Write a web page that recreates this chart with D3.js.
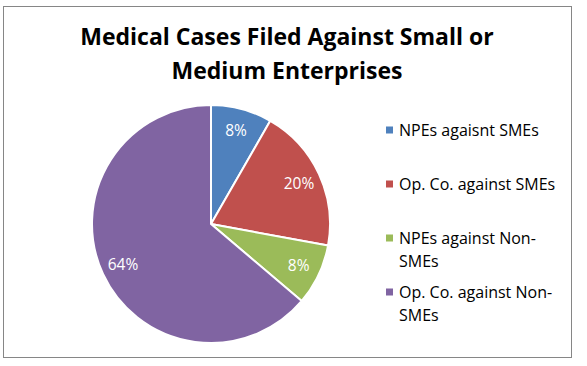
<!DOCTYPE html>
<html>
<head>
<meta charset="utf-8">
<script src="https://cdn.jsdelivr.net/npm/d3@7"></script>
<style>
  html, body { margin: 0; padding: 0; background: #fff; }
</style>
</head>
<body>
<div id="chart"></div>
<script>
// Medical cases filed against SMEs - pie chart
const titleLines = ["Medical Cases Filed Against Small or", "Medium Enterprises"];
const categories = ["NPEs agaisnt SMEs", "Op. Co. against SMEs", "NPEs against Non-SMEs", "Op. Co. against Non-SMEs"];
const shares = [8.3, 19.6, 8.3, 63.8];
const colors = ["#4f81bd", "#c0504d", "#9bbb59", "#8064a2"];

const width = 587, height = 366;
const cx = 211, cy = 224, radius = 119;

const svg = d3.select("#chart")
  .append("svg")
  .attr("width", width)
  .attr("height", height);

// Chart area border
svg.append("rect")
  .attr("x", 3.5).attr("y", 6.5)
  .attr("width", 568).attr("height", 351)
  .attr("fill", "#fff")
  .attr("stroke", "#868686")
  .attr("stroke-width", 1);

// Title
svg.append("g")
  .selectAll("text")
  .data(titleLines)
  .join("text")
  .attr("x", 287)
  .attr("y", (d, i) => 45 + i * 33.5)
  .attr("text-anchor", "middle")
  .style("font-family", "'Open Sans', sans-serif")
  .style("font-weight", "bold")
  .style("font-size", "23px")
  .style("fill", "#000")
  .text(d => d);

// Pie
const data = categories.map((c, i) => ({ name: c, value: shares[i], color: colors[i] }));
const pie = d3.pie().sort(null).value(d => d.value);
const arcs = pie(data);
const arc = d3.arc().innerRadius(0).outerRadius(radius);
const labelArc = d3.arc().innerRadius(97).outerRadius(97);

const pieG = svg.append("g").attr("transform", `translate(${cx},${cy})`);

pieG.selectAll("path")
  .data(arcs)
  .join("path")
  .attr("d", arc)
  .attr("fill", d => d.data.color)
  .attr("stroke", "#fff")
  .attr("stroke-width", 2)
  .attr("stroke-linejoin", "round");

pieG.selectAll("text")
  .data(arcs)
  .join("text")
  .attr("x", d => labelArc.centroid(d)[0])
  .attr("y", d => labelArc.centroid(d)[1])
  .attr("dy", "0.35em")
  .attr("text-anchor", "middle")
  .style("font-family", "'Open Sans', sans-serif")
  .style("font-size", "15.5px")
  .style("fill", "#fff")
  .text(d => d3.format(".0f")(d.data.value) + "%");

// Legend (break long labels after the hyphen)
const legendG = svg.append("g").attr("transform", "translate(386, 130)");
const rowStep = 54;

categories.forEach((c, i) => {
  const lines = c.length > 20 && c.includes("-")
    ? [c.slice(0, c.lastIndexOf("-") + 1), c.slice(c.lastIndexOf("-") + 1)]
    : [c];
  const g = legendG.append("g").attr("transform", `translate(0, ${i * rowStep})`);
  g.append("rect")
    .attr("x", 0).attr("y", -3.5)
    .attr("width", 7).attr("height", 7)
    .attr("fill", colors[i]);
  g.selectAll("text")
    .data(lines)
    .join("text")
    .attr("x", 13)
    .attr("y", (d, j) => 6 + j * 23)
    .style("font-family", "'Open Sans', sans-serif")
    .style("font-size", "16px")
    .style("fill", "#000")
    .text(d => d);
});
</script>
</body>
</html>
